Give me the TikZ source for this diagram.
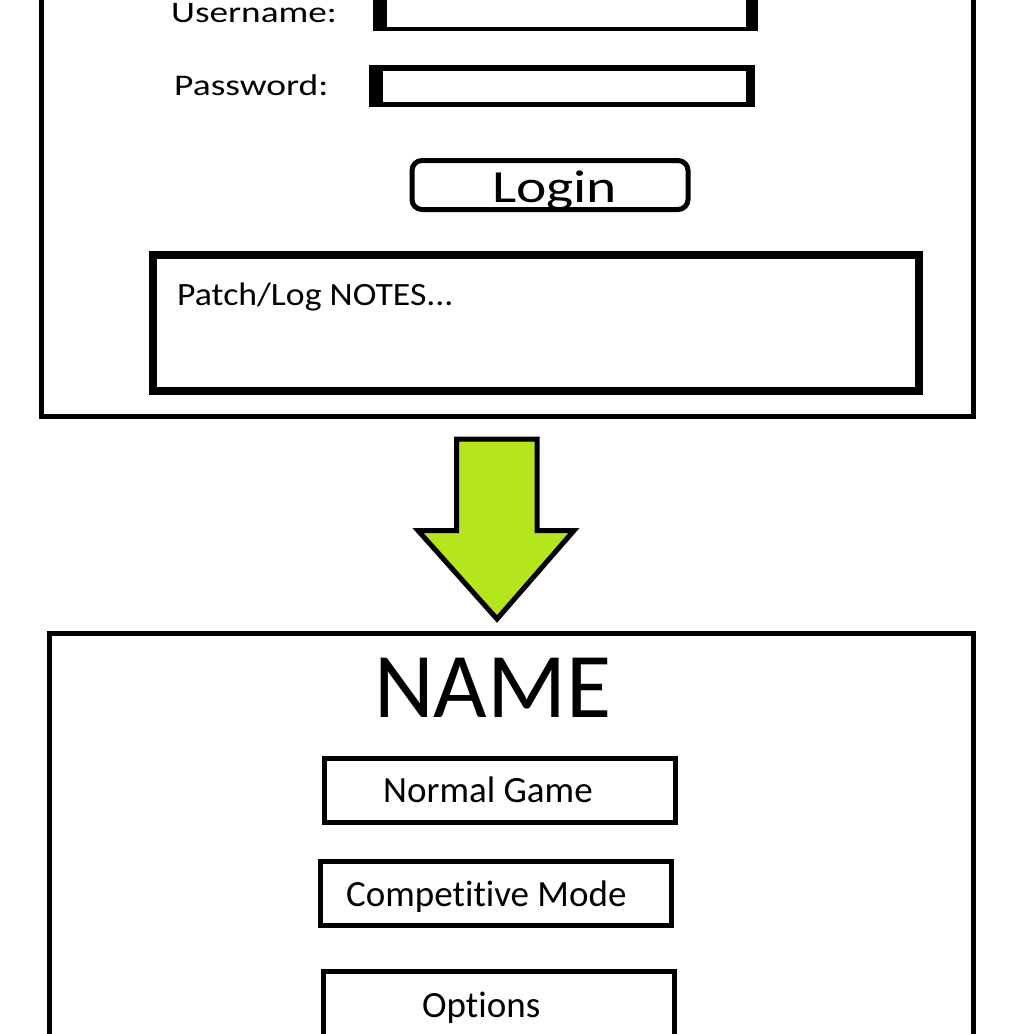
\documentclass[tikz,border=0pt]{standalone}
\usepackage{fontspec}
\setmainfont{Carlito}[Ligatures=NoCommon]
\newfontfamily\widefont[FakeStretch=1.25,Ligatures=NoCommon]{Carlito}
\newfontfamily\notesfont[FakeStretch=1.1,Ligatures=NoCommon]{Carlito}
\definecolor{paintlime}{HTML}{B5E61D}

\begin{document}
\begin{tikzpicture}[
  x=1pt, y=-1pt,
  frame/.style={draw,line width=5pt},
  notebox/.style={draw,line width=8pt},
  menubtn/.style={draw,line width=5pt},
  lbl/.style={anchor=base west,inner sep=0pt},
  arrowshape/.style={draw,line width=5pt,fill=paintlime,line join=miter}
]
\useasboundingbox (0,0) rectangle (1034,1034);
\clip (0,0) rectangle (1034,1034);

% login screen
\draw[frame] (41.5,-20) rectangle (973.5,416);
\fill (373,-20) rectangle (758,31);
\fill[white] (387,-20) rectangle (746,27);
\fill (369,65) rectangle (755,107);
\fill[white] (383,71) rectangle (746,102);
\node[lbl,font=\widefont\fontsize{29.8}{35}\selectfont] (user) at (171,22) {Username:};
\node[lbl,font=\widefont\fontsize{30}{35}\selectfont] (pass) at (174,95) {Password:};
\draw[frame,rounded corners=10pt] (412,160.5) rectangle (688,209.5);
\node[lbl,font=\widefont\fontsize{46}{54}\selectfont] (login) at (492,202) {Login};
\draw[notebox] (153,254.5) rectangle (919,390.5);
\node[lbl,font=\notesfont\fontsize{32.5}{38}\selectfont] (notes) at (177,305) {Patch/Log NOTES...};

% transition
\draw[arrowshape] (456.5,439) -- (537,439) -- (537,530.5) -- (574,530.5)
  -- (497,619) -- (418,530.5) -- (456.5,530.5) -- cycle;

% main menu
\draw[frame] (49.5,633.5) rectangle (973.5,1060);
\node[lbl,font=\fontsize{92.5}{110}\selectfont] (title) at (374,717) {NAME};
\draw[menubtn] (324.5,758.5) rectangle (675.5,822.5);
\node[lbl,font=\fontsize{37}{44}\selectfont] (normal) at (383,802) {Normal Game};
\draw[menubtn] (320.5,861.5) rectangle (671.5,925.5);
\node[lbl,font=\fontsize{37}{44}\selectfont] (comp) at (346,906) {Competitive Mode};
\draw[menubtn] (323.5,971.5) rectangle (674.5,1060);
\node[lbl,font=\fontsize{37}{44}\selectfont] (opts) at (422,1017) {Options};
\end{tikzpicture}
\end{document}
